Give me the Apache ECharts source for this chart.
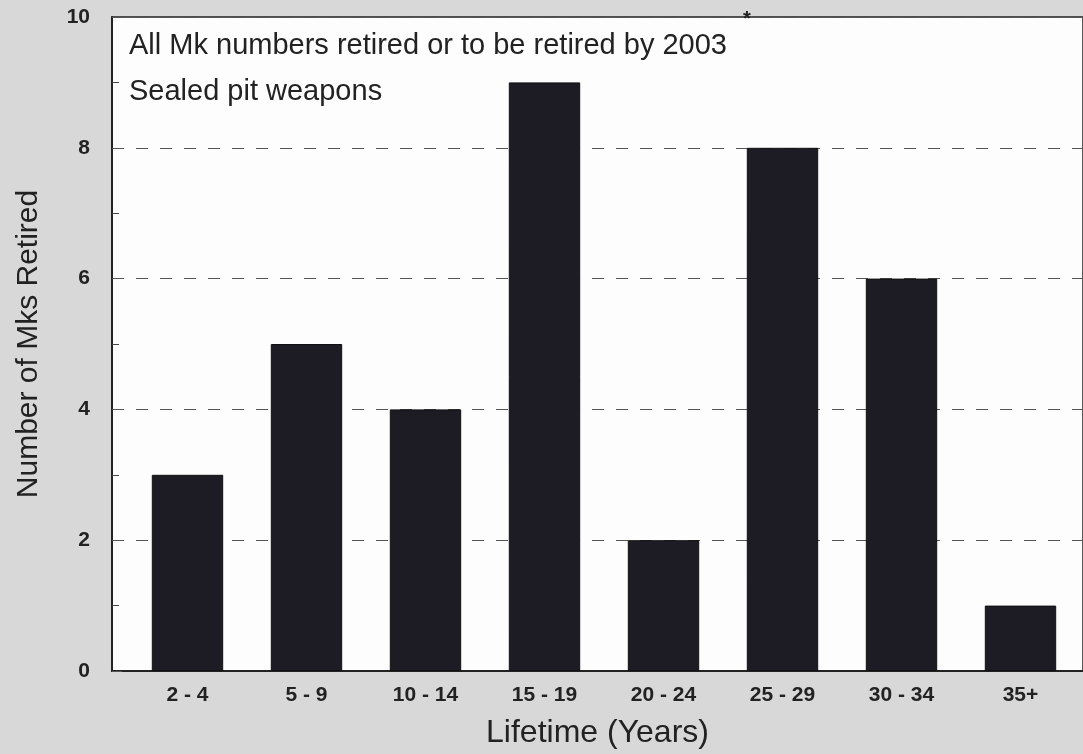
<!DOCTYPE html>
<html>
<head>
<meta charset="utf-8">
<script src="https://cdn.jsdelivr.net/npm/echarts@6/dist/echarts.min.js"></script>
<style>
  html, body { margin: 0; padding: 0; background: #d8d8d8; }
  #chart { width: 1083px; height: 754px; }
</style>
</head>
<body>
<div id="chart"></div>
<script>
// lifetime bins and how many Mks were retired in each
var lifetimes = ['2 - 4', '5 - 9', '10 - 14', '15 - 19', '20 - 24', '25 - 29', '30 - 34', '35+']
var retired = [3, 5, 4, 9, 2, 8, 6, 1]
var yTicks = [0, 2, 4, 6, 8, 10]

var chart = echarts.init(document.getElementById('chart'))

var fontFamily = '"Liberation Sans", Arial, sans-serif'

chart.setOption({
  backgroundColor: '#d8d8d8',
  textStyle: { fontFamily: fontFamily },
  title: [
    {
      text: 'All Mk numbers retired or to be retired by 2003',
      left: 124, top: 26,
      textStyle: { fontSize: 29, fontWeight: 'normal', color: '#222', fontFamily: fontFamily }
    },
    {
      text: '*',
      left: 738, top: 4,
      textStyle: { fontSize: 20, fontWeight: 'bold', color: '#222', fontFamily: fontFamily }
    },
    {
      text: 'Sealed pit weapons',
      left: 124, top: 72,
      textStyle: { fontSize: 29, fontWeight: 'normal', color: '#222', fontFamily: fontFamily }
    }
  ],
  grid: [
    // frame: white plot area with the left and bottom axes
    { left: 112, top: 17, width: 1000, bottom: 83, show: true, backgroundColor: '#fdfdfd', borderColor: '#222', borderWidth: 1.5 },
    // bars sit in their own grid so the first category starts a bit in from the axis
    { left: 128, top: 17, width: 952, bottom: 83 }
  ],
  xAxis: [
    {
      gridIndex: 0, type: 'value', min: 0, max: 1,
      axisLine: { show: true, lineStyle: { color: '#222', width: 2 } },
      axisTick: { show: false }, axisLabel: { show: false }, splitLine: { show: false },
      name: 'Lifetime (Years)', nameLocation: 'middle', nameGap: 46,
      nameTextStyle: { fontSize: 32, color: '#222', fontFamily: fontFamily }
    },
    {
      gridIndex: 1, type: 'category', data: lifetimes,
      axisLine: { show: false }, axisTick: { show: false },
      axisLabel: { margin: 14, fontSize: 21, fontWeight: 'bold', color: '#222', fontFamily: fontFamily }
    }
  ],
  yAxis: [
    {
      gridIndex: 0, type: 'value', min: yTicks[0], max: yTicks[yTicks.length - 1], interval: 2,
      axisLine: { show: true, lineStyle: { color: '#222', width: 2 } },
      axisTick: { show: true, inside: true, length: 10, lineStyle: { color: '#555' } },
      minorTick: { show: true, splitNumber: 2, length: 7, lineStyle: { color: '#444' } },
      axisLabel: { margin: 22, fontSize: 21, fontWeight: 'bold', color: '#222', fontFamily: fontFamily },
      splitLine: { show: true, lineStyle: { color: '#555', type: [12, 12], width: 1 } },
      name: 'Number of Mks Retired', nameLocation: 'middle', nameGap: 68,
      nameTextStyle: { fontSize: 30, color: '#222', fontFamily: fontFamily }
    },
    {
      gridIndex: 1, type: 'value', min: yTicks[0], max: yTicks[yTicks.length - 1],
      show: false, splitLine: { show: false }
    }
  ],
  series: [{
    type: 'bar',
    xAxisIndex: 1,
    yAxisIndex: 1,
    data: retired,
    barWidth: '60%',
    itemStyle: { color: '#1d1c24', borderColor: '#111', borderWidth: 1 }
  }]
})
</script>
</body>
</html>
